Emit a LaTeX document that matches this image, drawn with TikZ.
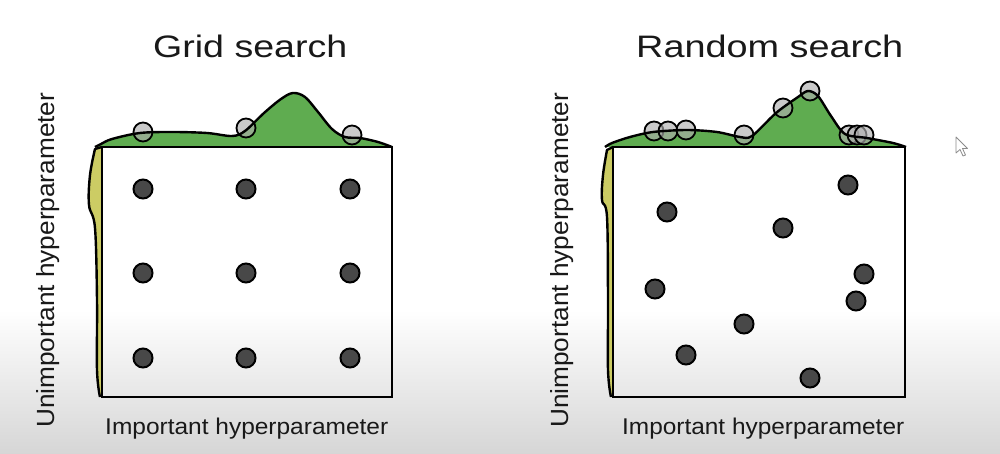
\documentclass[tikz,border=0pt]{standalone}
\usepackage{fontspec}
\setmainfont{Liberation Sans}
\usepackage{graphicx}
\definecolor{dens}{RGB}{95,172,80}
\definecolor{ydens}{RGB}{204,204,100}
\definecolor{dotfill}{RGB}{72,72,72}
\definecolor{bgbot}{RGB}{214,214,214}
\tikzset{
  dot/.style={circle, minimum size=19pt, inner sep=0pt, fill=dotfill, draw=black, line width=2pt},
  sample/.style={circle, minimum size=19pt, inner sep=0pt, fill={rgb,255:red,175;green,175;blue,175}, fill opacity=0.65, draw=black, draw opacity=1, line width=1.8pt},
  frame/.style={draw=black, line width=2.6pt},
  curve/.style={draw=black, line width=2.4pt, line join=round},
  lbl/.style={anchor=base west, inner sep=0pt, text=black!90}
}
\begin{document}
\begin{tikzpicture}[x=1pt,y=-1pt]
\useasboundingbox (0,0) rectangle (1000,454);
\fill[white] (0,0) rectangle (1000,454);
\shade[top color=white, bottom color=bgbot] (0,310) rectangle (1000,454);

% ---------- Left panel (grid search) ----------
\fill[dens] (95,147) -- plot[smooth, tension=0.55] coordinates {(95,147) (101,144) (112,139) (140,133) (173,132) (207,133) (232,136) (245,131) (264,113) (281,99) (293,93) (305,97) (318,112) (332,129) (345,137) (360,138) (378,142) (392,147)} -- cycle;
\fill[ydens] (102,147) -- plot[smooth, tension=0.6] coordinates {(95,149) (90,175) (89,205) (95,228) (97,300) (97,370) (100,397)} -- (102,397) -- cycle;
\node[sample] (gs1) at (143,132) {};
\node[sample] (gs2) at (246,128) {};
\node[sample] (gs3) at (352,135) {};
\draw[curve] plot[smooth, tension=0.55] coordinates {(95,147) (101,144) (112,139) (140,133) (173,132) (207,133) (232,136) (245,131) (264,113) (281,99) (293,93) (305,97) (318,112) (332,129) (345,137) (360,138) (378,142) (392,147)};
\draw[curve] (102,147) -- plot[smooth, tension=0.6] coordinates {(95,149) (90,175) (89,205) (95,228) (97,300) (97,370) (100,397)};
\draw[frame] (102,147) rectangle (392,397);

\node[dot] (g11) at (143,189) {};
\node[dot] (g12) at (246,189) {};
\node[dot] (g13) at (350,189) {};
\node[dot] (g21) at (143,273) {};
\node[dot] (g22) at (246,273) {};
\node[dot] (g23) at (350,273) {};
\node[dot] (g31) at (143,358) {};
\node[dot] (g32) at (246,358) {};
\node[dot] (g33) at (350,358) {};

\node[lbl] (gtitle) at (153,57.5) {\resizebox{194pt}{22.5pt}{Grid search}};
\node[lbl] (gx) at (105,434) {\resizebox{283pt}{16.5pt}{Important hyperparameter}};
\node[lbl, rotate=90] (gy) at (54,428) {\resizebox{335pt}{18pt}{Unimportant hyperparameter}};

% ---------- Right panel (random search) ----------
\fill[dens] (605,147) -- plot[smooth, tension=0.5] coordinates {(605,147) (612,143) (630,137) (653,132) (687,130) (717,132) (740,137) (752,136) (776,113) (798,97) (808,91) (818,96) (831,116) (845,134) (867,138) (893,143) (906,147)} -- cycle;
\fill[ydens] (613,147) -- plot[smooth, tension=0.6] coordinates {(607,150) (603,175) (602,200) (607,217) (608,300) (608,370) (611,397)} -- (613,397) -- cycle;
\node[sample] (rs1) at (654,131) {};
\node[sample] (rs2) at (668,131) {};
\node[sample] (rs3) at (686,130) {};
\node[sample] (rs4) at (744,135) {};
\node[sample] (rs5) at (783,108) {};
\node[sample] (rs6) at (810,91) {};
\node[sample] (rs7) at (849,135) {};
\node[sample] (rs8) at (857,135) {};
\node[sample] (rs9) at (864,135) {};
\draw[curve] plot[smooth, tension=0.5] coordinates {(605,147) (612,143) (630,137) (653,132) (687,130) (717,132) (740,137) (752,136) (776,113) (798,97) (808,91) (818,96) (831,116) (845,134) (867,138) (893,143) (906,147)};
\draw[curve] (613,147) -- plot[smooth, tension=0.6] coordinates {(607,150) (603,175) (602,200) (607,217) (608,300) (608,370) (611,397)};
\draw[frame] (613,147) rectangle (905,397);

\node[dot] (r1) at (667,212) {};
\node[dot] (r2) at (848,185) {};
\node[dot] (r3) at (783,228) {};
\node[dot] (r4) at (864,274) {};
\node[dot] (r5) at (655,289) {};
\node[dot] (r6) at (856,301) {};
\node[dot] (r7) at (744,324) {};
\node[dot] (r8) at (686,355) {};
\node[dot] (r9) at (810,378) {};

\node[lbl] (rtitle) at (636,57.5) {\resizebox{267pt}{22.5pt}{Random search}};
\node[lbl] (rx) at (622,434) {\resizebox{282pt}{16.5pt}{Important hyperparameter}};
\node[lbl, rotate=90] (ry) at (568,428) {\resizebox{335pt}{18pt}{Unimportant hyperparameter}};

% ---------- mouse cursor ----------
\draw[black!45, line width=0.8pt, fill=white, line join=round] (956,137) -- (956,153) -- (960,149.5) -- (963,156) -- (965.5,155) -- (962.5,148.5) -- (967.5,148.5) -- cycle;
\end{tikzpicture}
\end{document}
